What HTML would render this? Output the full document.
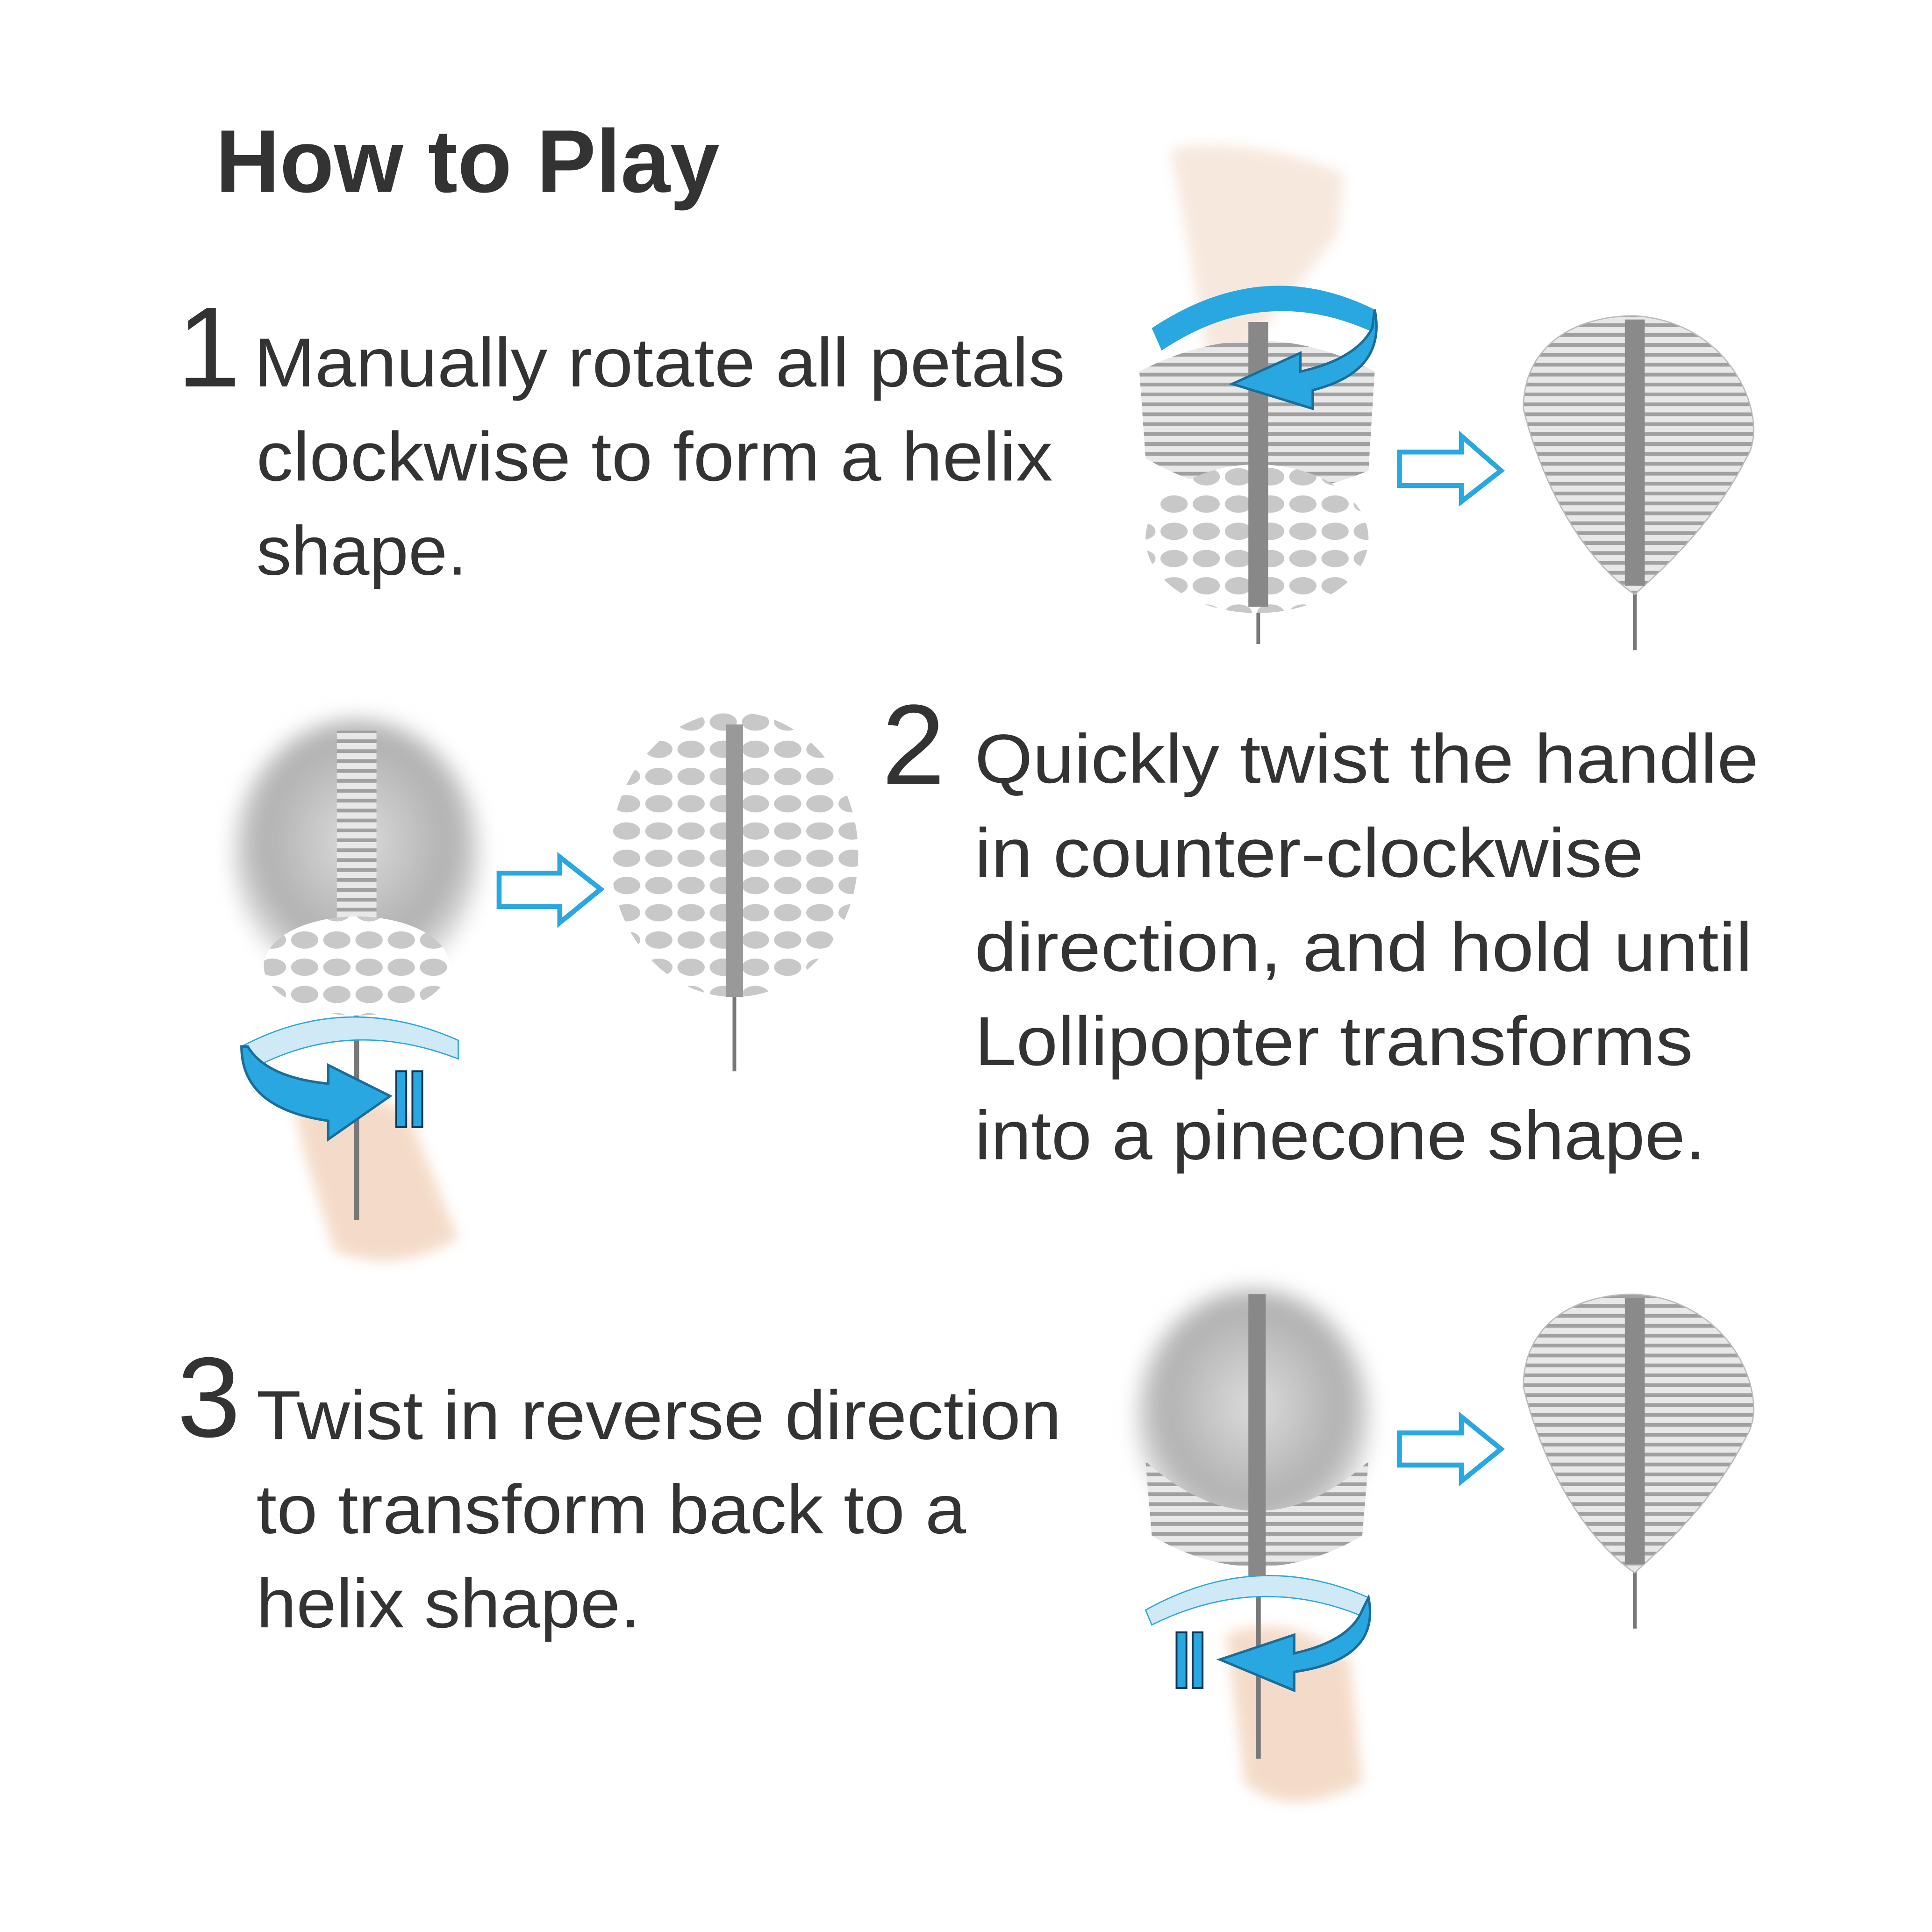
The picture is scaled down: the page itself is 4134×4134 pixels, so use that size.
<!DOCTYPE html>
<html><head><meta charset="utf-8"><style>
html,body{margin:0;padding:0;background:#fff}
svg{display:block}
</style></head><body>
<svg width="4134" height="4134" viewBox="0 0 1560 1560" xmlns="http://www.w3.org/2000/svg">
<defs>
<radialGradient id="g1" cx="50%" cy="45%" r="55%"><stop offset="0" stop-color="#dcdcdc"/><stop offset="0.7" stop-color="#b0b0b0"/><stop offset="1" stop-color="#eeeeee"/></radialGradient>
<pattern id="st" width="10" height="8" patternUnits="userSpaceOnUse"><rect width="10" height="8" fill="#e8e8e8"/><rect y="5" width="10" height="3" fill="#a0a0a0"/></pattern>
<pattern id="dots" width="26" height="22" patternUnits="userSpaceOnUse"><rect width="26" height="22" fill="#fff"/><ellipse cx="12" cy="11" rx="11" ry="7" fill="#c8c8c8"/></pattern>
<filter id="bl"><feGaussianBlur stdDeviation="5"/></filter>
<filter id="bl2"><feGaussianBlur stdDeviation="8"/></filter>
</defs>
<rect width="1560" height="1560" fill="#fff"/>
<g font-family="'Liberation Sans',sans-serif" fill="#333" lengthAdjust="spacingAndGlyphs">
<text x="174" y="155" font-size="72" font-weight="bold" textLength="407" lengthAdjust="spacingAndGlyphs">How to Play</text>
<text x="143" y="312" font-size="92">1</text>
<text x="205" y="312" font-size="56" textLength="655" lengthAdjust="spacingAndGlyphs">Manually rotate all petals</text>
<text x="207" y="388" font-size="56" textLength="643" lengthAdjust="spacingAndGlyphs">clockwise to form a helix</text>
<text x="207" y="464" font-size="56" textLength="170" lengthAdjust="spacingAndGlyphs">shape.</text>
<text x="712" y="633" font-size="92">2</text>
<text x="787" y="632" font-size="56" textLength="633" lengthAdjust="spacingAndGlyphs">Quickly twist the handle</text>
<text x="787" y="708" font-size="56" textLength="540" lengthAdjust="spacingAndGlyphs">in counter-clockwise</text>
<text x="787" y="784" font-size="56" textLength="628" lengthAdjust="spacingAndGlyphs">direction, and hold until</text>
<text x="787" y="860" font-size="56" textLength="580" lengthAdjust="spacingAndGlyphs">Lollipopter transforms</text>
<text x="787" y="936" font-size="56" textLength="590" lengthAdjust="spacingAndGlyphs">into a pinecone shape.</text>
<text x="143" y="1160" font-size="92">3</text>
<text x="207" y="1162" font-size="56" textLength="650" lengthAdjust="spacingAndGlyphs">Twist in reverse direction</text>
<text x="207" y="1238" font-size="56" textLength="573" lengthAdjust="spacingAndGlyphs">to transform back to a</text>
<text x="207" y="1314" font-size="56" textLength="310" lengthAdjust="spacingAndGlyphs">helix shape.</text>
</g>
<g stroke="#777" stroke-width="3">
<line x1="1016" y1="480" x2="1016" y2="520"/><line x1="1320" y1="470" x2="1320" y2="525"/>
<line x1="593" y1="800" x2="593" y2="865"/><line x1="1320" y1="1260" x2="1320" y2="1315"/>
</g>
<!-- row1 -->
<path d="M945 120 Q1010 110 1085 140 L1080 190 L1000 290 L975 290 L960 200 Z" fill="#f1d9c8" opacity="0.6" filter="url(#bl)"/>
<path d="M920 300 Q1015 250 1110 300 L1105 380 Q1010 420 925 370 Z" fill="url(#st)"/>
<ellipse cx="1015" cy="435" rx="90" ry="60" fill="url(#dots)"/>
<rect x="1008" y="260" width="16" height="230" fill="#888"/>
<path d="M1320 255 C1400 260 1430 340 1410 370 C1380 430 1330 470 1320 480 C1290 460 1250 410 1230 330 C1230 280 1270 255 1320 255 Z" fill="url(#st)" stroke="#bbb"/>
<rect x="1312" y="258" width="16" height="215" fill="#8a8a8a"/>
<path d="M930 265 Q1020 205 1110 250 L1108 268 Q1020 228 938 283 Z" fill="#29a7e1"/>
<path d="M1110 250 Q1120 300 1060 315 L1060 330 L995 310 L1050 285 L1050 300 Q1095 290 1108 265 Z" fill="#29a7e1" stroke="#1a6d99" stroke-width="2"/>
<path d="M1130 365 L1180 365 L1180 352 L1212 380 L1180 405 L1180 392 L1130 392 Z" fill="#fff" stroke="#29a7e1" stroke-width="4"/>
<!-- row2 -->
<ellipse cx="288" cy="690" rx="100" ry="110" fill="url(#g1)" filter="url(#bl2)"/>
<rect x="272" y="590" width="32" height="210" fill="url(#st)"/>
<ellipse cx="288" cy="780" rx="75" ry="40" fill="url(#dots)"/>
<path d="M235 880 Q280 870 330 900 L370 1000 Q320 1030 270 1010 L245 930 Z" fill="#f1d0b8" opacity="0.75" filter="url(#bl)"/>
<line x1="288" y1="820" x2="288" y2="985" stroke="#777" stroke-width="4"/>
<path d="M195 845 Q280 800 370 840 L370 855 Q280 820 200 865 Z" fill="#cfe9f7" stroke="#29a7e1"/>
<path d="M195 845 Q195 895 265 905 L265 920 L315 885 L265 860 L265 875 Q215 870 200 845 Z" fill="#29a7e1" stroke="#1a6d99" stroke-width="2"/>
<rect x="320" y="865" width="8" height="45" fill="#29a7e1" stroke="#135" stroke-width="1.5"/><rect x="333" y="865" width="8" height="45" fill="#29a7e1" stroke="#135" stroke-width="1.5"/>
<ellipse cx="593" cy="690" rx="100" ry="115" fill="url(#dots)"/>
<rect x="586" y="585" width="14" height="220" fill="#999"/>
<path d="M403 705 L452 705 L452 692 L485 718 L452 745 L452 732 L403 732 Z" fill="#fff" stroke="#29a7e1" stroke-width="4"/>
<!-- row3 -->
<ellipse cx="1012" cy="1145" rx="95" ry="105" fill="url(#g1)" filter="url(#bl2)"/>
<path d="M925 1180 Q1015 1260 1105 1180 L1100 1240 Q1015 1290 930 1240 Z" fill="url(#st)"/>
<rect x="1008" y="1045" width="14" height="230" fill="#888"/>
<path d="M990 1320 Q1040 1300 1090 1340 L1100 1440 Q1040 1470 1005 1440 Z" fill="#f1d0b8" opacity="0.75" filter="url(#bl)"/>
<line x1="1016" y1="1280" x2="1016" y2="1420" stroke="#777" stroke-width="4"/>
<path d="M925 1300 Q1015 1250 1105 1290 L1100 1305 Q1015 1270 930 1312 Z" fill="#cfe9f7" stroke="#29a7e1"/>
<path d="M1105 1290 Q1115 1340 1045 1350 L1045 1365 L985 1340 L1045 1320 L1045 1335 Q1090 1325 1100 1300 Z" fill="#29a7e1" stroke="#1a6d99" stroke-width="2"/>
<rect x="950" y="1318" width="8" height="45" fill="#29a7e1" stroke="#135" stroke-width="1.5"/><rect x="963" y="1318" width="8" height="45" fill="#29a7e1" stroke="#135" stroke-width="1.5"/>
<path d="M1320 1045 C1400 1050 1430 1130 1410 1160 C1380 1220 1330 1260 1320 1270 C1290 1250 1250 1200 1230 1120 C1230 1070 1270 1045 1320 1045 Z" fill="url(#st)" stroke="#bbb"/>
<rect x="1312" y="1048" width="16" height="215" fill="#8a8a8a"/>
<path d="M1130 1157 L1180 1157 L1180 1144 L1212 1170 L1180 1196 L1180 1183 L1130 1183 Z" fill="#fff" stroke="#29a7e1" stroke-width="4"/>
</svg>
</body></html>
